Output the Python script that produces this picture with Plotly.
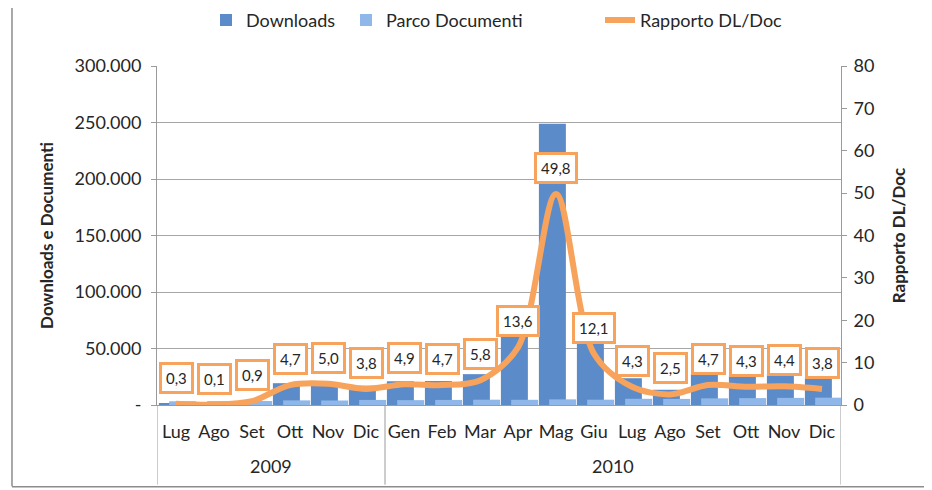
import plotly.graph_objects as go

# dati
anni = ["2009"] * 6 + ["2010"] * 12
mesi = ["Lug", "Ago", "Set", "Ott", "Nov", "Dic",
        "Gen", "Feb", "Mar", "Apr", "Mag", "Giu",
        "Lug", "Ago", "Set", "Ott", "Nov", "Dic"]
downloads = [1000, 340, 3200, 19300, 20000, 17100,
             21000, 21200, 27300, 62500, 249000, 56900,
             23700, 13500, 27700, 26200, 27700, 24700]
parco_documenti = [3300, 3400, 3500, 4100, 4000, 4500,
                   4300, 4500, 4700, 4600, 5000, 4700,
                   5500, 5400, 5900, 6100, 6300, 6500]
rapporto = [0.3, 0.1, 0.9, 4.7, 5.0, 3.8,
            4.9, 4.7, 5.8, 13.6, 49.8, 12.1,
            4.3, 2.5, 4.7, 4.3, 4.4, 3.8]
left_ticks = [0, 50000, 100000, 150000, 200000, 250000, 300000]
left_ticktext = ["-", "50.000", "100.000", "150.000", "200.000", "250.000", "300.000"]

FONT = "Lato"
ORANGE = "#f7a35c"
GREY = "#9a9a9a"
TXT = "#262626"
pos = list(range(len(mesi)))

fig = go.Figure()
fig.add_trace(go.Bar(
    x=pos, y=downloads, name="Downloads", legend="legend", showlegend=True,
    marker=dict(color="#5b8bc9", line=dict(width=0)),
    width=0.71, offset=-0.45,
))
fig.add_trace(go.Bar(
    x=pos, y=parco_documenti, name="Parco Documenti", legend="legend2", showlegend=True,
    marker=dict(color="#8fb7e9", line=dict(width=0)),
    width=0.71, offset=-0.18,
))
fig.add_trace(go.Scatter(
    x=pos, y=rapporto, name="Rapporto DL/Doc", yaxis="y2", legend="legend3", showlegend=True,
    mode="lines", line=dict(color=ORANGE, width=6, shape="spline", smoothing=0.9),
))

# etichette dei valori del rapporto
for p, r in zip(pos, rapporto):
    fig.add_annotation(
        x=p, y=r, xref="x", yref="y2", yshift=26,
        text=f"{r:.1f}".replace(".", ","), showarrow=False,
        font=dict(family=FONT, size=15, color=TXT),
        bgcolor="white", bordercolor=ORANGE, borderwidth=3, borderpad=4,
    )

# etichette degli anni e divisori sotto l'asse x
gruppi = []
for p, a in zip(pos, anni):
    if not gruppi or gruppi[-1][0] != a:
        gruppi.append([a, p, p])
    else:
        gruppi[-1][2] = p
for a, start, end in gruppi:
    fig.add_annotation(
        x=(start + end) / 2, y=-0.18, xref="x", yref="paper", yanchor="middle",
        text=a, showarrow=False, font=dict(family=FONT, size=18, color=TXT),
    )
    fig.add_shape(type="line", xref="x", yref="paper", x0=start - 0.5, x1=start - 0.5,
                  y0=0, y1=-0.235, line=dict(color=GREY, width=1))
fig.add_shape(type="line", xref="x", yref="paper", x0=pos[-1] + 0.5, x1=pos[-1] + 0.5,
              y0=0, y1=-0.235, line=dict(color=GREY, width=1))

legend_common = dict(orientation="h", xanchor="left", y=0.975, yanchor="middle",
                     xref="container", yref="container", font=dict(size=18, color=TXT),
                     bgcolor="rgba(0,0,0,0)")

fig.update_layout(
    width=932, height=490,
    margin=dict(l=149, r=99, t=58, b=93, autoexpand=False),
    paper_bgcolor="white", plot_bgcolor="white",
    barmode="overlay", showlegend=True,
    font=dict(family=FONT, size=18, color=TXT),
    legend=dict(x=198 / 932, **legend_common),
    legend2=dict(x=338 / 932, **legend_common),
    legend3=dict(x=592 / 932, **legend_common),
    xaxis=dict(
        range=[-0.5, len(mesi) - 0.5], tickvals=pos, ticktext=mesi,
        showline=True, linecolor=GREY, linewidth=1, ticks="", ticklabelstandoff=10,
        tickfont=dict(size=18), showgrid=False, zeroline=False,
    ),
    yaxis=dict(
        range=[0, 300000], tickvals=left_ticks, ticktext=left_ticktext,
        showgrid=True, gridcolor="#a6a6a6", gridwidth=1, tickfont=dict(size=18),
        showline=True, linecolor=GREY, ticks="outside", ticklen=5, tickcolor=GREY,
        ticklabelstandoff=6,
        title=dict(text="<b>Downloads e Documenti</b>", font=dict(size=17), standoff=16),
        zeroline=False,
    ),
    yaxis2=dict(
        range=[0, 80], dtick=10, overlaying="y", side="right", tickfont=dict(size=18),
        showgrid=False, showline=True, linecolor=GREY,
        ticks="outside", ticklen=5, tickcolor=GREY, ticklabelstandoff=3,
        title=dict(text="<b>Rapporto DL/Doc</b>", font=dict(size=17), standoff=19),
        zeroline=False,
    ),
)

# bordo esterno del grafico
fig.add_shape(type="line", xref="paper", yref="paper", x0=-0.212, x1=-0.212, y0=-0.24, y1=1.3,
              line=dict(color="#8c8c8c", width=1.5))
fig.add_shape(type="line", xref="paper", yref="paper", x0=-0.212, x1=1.3, y0=-0.241, y1=-0.241,
              line=dict(color="#8c8c8c", width=1.5))

fig.write_html("out.html")
